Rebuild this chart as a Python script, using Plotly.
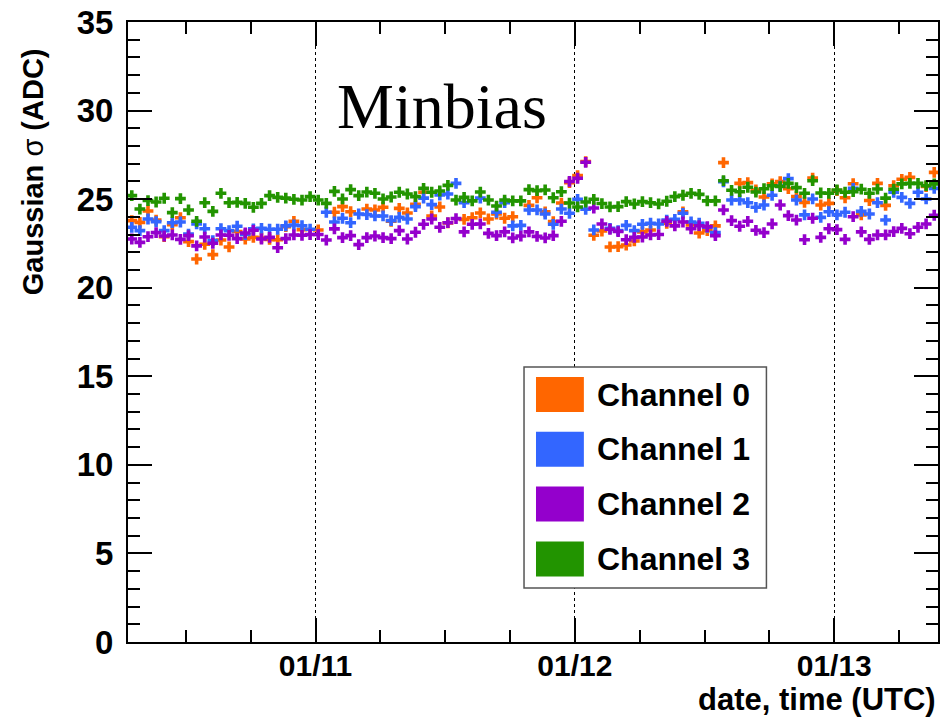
import plotly.graph_objects as go

# Sampling times (one reading every 45 minutes)
TIMES = [
    "2011-01-10 07:00", "2011-01-10 07:45", "2011-01-10 08:30", "2011-01-10 09:15",
    "2011-01-10 10:00", "2011-01-10 10:45", "2011-01-10 11:30", "2011-01-10 12:15",
    "2011-01-10 13:00", "2011-01-10 13:45", "2011-01-10 14:30", "2011-01-10 15:15",
    "2011-01-10 16:00", "2011-01-10 16:45", "2011-01-10 17:30", "2011-01-10 18:15",
    "2011-01-10 19:00", "2011-01-10 19:45", "2011-01-10 20:30", "2011-01-10 21:15",
    "2011-01-10 22:00", "2011-01-10 22:45", "2011-01-10 23:30",
    "2011-01-11 00:15", "2011-01-11 01:00", "2011-01-11 01:45", "2011-01-11 02:30",
    "2011-01-11 03:15", "2011-01-11 04:00", "2011-01-11 04:45", "2011-01-11 05:30",
    "2011-01-11 06:15", "2011-01-11 07:00", "2011-01-11 07:45", "2011-01-11 08:30",
    "2011-01-11 09:15", "2011-01-11 10:00", "2011-01-11 10:45", "2011-01-11 11:30",
    "2011-01-11 12:15", "2011-01-11 13:00", "2011-01-11 13:45", "2011-01-11 14:30",
    "2011-01-11 15:15", "2011-01-11 16:00", "2011-01-11 16:45", "2011-01-11 17:30",
    "2011-01-11 18:15", "2011-01-11 19:00", "2011-01-11 19:45", "2011-01-11 20:30",
    "2011-01-11 21:15", "2011-01-11 22:00", "2011-01-11 22:45", "2011-01-11 23:30",
    "2011-01-12 00:15", "2011-01-12 01:00", "2011-01-12 01:45", "2011-01-12 02:30",
    "2011-01-12 03:15", "2011-01-12 04:00", "2011-01-12 04:45", "2011-01-12 05:30",
    "2011-01-12 06:15", "2011-01-12 07:00", "2011-01-12 07:45", "2011-01-12 08:30",
    "2011-01-12 09:15", "2011-01-12 10:00", "2011-01-12 10:45", "2011-01-12 11:30",
    "2011-01-12 12:15", "2011-01-12 13:00", "2011-01-12 13:45", "2011-01-12 14:30",
    "2011-01-12 15:15", "2011-01-12 16:00", "2011-01-12 16:45", "2011-01-12 17:30",
    "2011-01-12 18:15", "2011-01-12 19:00", "2011-01-12 19:45", "2011-01-12 20:30",
    "2011-01-12 21:15", "2011-01-12 22:00", "2011-01-12 22:45", "2011-01-12 23:30",
    "2011-01-13 00:15", "2011-01-13 01:00", "2011-01-13 01:45", "2011-01-13 02:30",
    "2011-01-13 03:15", "2011-01-13 04:00", "2011-01-13 04:45", "2011-01-13 05:30",
    "2011-01-13 06:15", "2011-01-13 07:00", "2011-01-13 07:45", "2011-01-13 08:30",
    "2011-01-13 09:15",
]

# Gaussian sigma per channel (ADC counts); None where no reading is shown
CH0 = [
    23.79, 23.69, 24.33, 23.82, 22.88, 23.56, 23.95, 22.60, 21.62, 22.45,
    21.87, 22.69, 22.30, 23.17, 22.75, 22.84, 22.81, 22.73, 22.71, 23.45,
    23.75, 23.28, None, 23.26, None, 24.26, 24.58, 24.29, None, 24.44,
    24.39, 24.54, 23.75, 24.48, 24.22, 24.71, 25.39, 24.05, 24.56, 23.66,
    None, 23.86, 23.95, 24.22, 23.88, 24.16, 23.92, 24.01, None, 24.65,
    25.08, 24.28, 23.73, 24.78, 25.93, 26.33, 27.12, 22.96, 23.20, 22.30,
    22.32, 22.41, 22.64, 23.15, 23.26, None, 23.64, None, 24.28, 23.54,
    23.09, 23.22, 23.49, 27.06, None, 25.89, 25.93, 25.52, 25.12, 25.86,
    25.99, 25.59, 25.14, 24.82, 26.19, 24.67, 24.76, 25.48, 25.08, 25.87,
    24.11, 24.92, 25.89, 24.65, 25.76, 26.12, 26.23, None, 25.71, 26.51,
]
CH1 = [
    23.41, 23.22, 23.88, 23.73, 23.22, 23.67, 23.71, 23.03, 23.60, 23.33,
    22.66, 23.33, 23.22, 23.47, 23.00, 23.32, 23.35, 23.30, 23.30, 23.49,
    23.54, 23.50, 23.30, None, 24.26, 23.71, 23.92, 23.67, 24.16, 24.13,
    24.05, 24.05, 23.79, 23.97, 23.88, 24.58, 25.06, 24.69, 25.23, 25.29,
    25.89, 24.80, None, 25.06, None, 24.26, 24.80, 23.49, 23.52, 24.39,
    24.39, 24.16, 23.58, 24.44, 24.20, 24.99, 24.43, 23.26, None, 23.35,
    23.22, 23.52, 23.22, 23.58, 23.64, 23.60, 23.82, 23.86, 24.20, 23.71,
    23.64, 23.41, 23.11, 25.98, 24.95, 24.95, 24.80, 24.54, 24.67, 25.22,
    25.74, 26.16, 24.95, 24.11, 25.01, 23.97, 24.29, 24.11, 24.26, 25.61,
    24.31, 24.16, 24.80, 23.82, 25.39, 25.10, 24.76, 25.39, 25.01, 25.61,
]
CH2 = [
    22.75, 22.56, 22.88, 23.11, 22.92, 22.98, 22.73, 22.94, 22.36, 22.86,
    22.51, 22.98, 22.96, 22.77, 23.09, 23.24, 22.75, 22.84, 22.26, 22.77,
    22.98, 22.96, 23.00, 23.00, 22.69, 23.32, 22.83, 22.94, 22.43, 22.83,
    22.92, 22.83, 22.77, 23.22, 22.75, 23.13, 23.58, 23.88, 23.41, 23.67,
    23.90, 23.15, 23.58, 23.60, 23.07, 22.94, 23.15, 22.81, 22.92, 23.15,
    22.90, 22.81, 22.94, 23.75, 26.00, 26.18, 27.08, 24.50, 23.60, 23.30,
    23.17, 22.71, 22.84, 22.86, 22.98, 23.00, 23.75, 23.49, 23.71, 23.33,
    23.50, 23.45, 22.94, 24.39, 23.79, 23.47, 23.75, 23.24, 23.11, 23.60,
    24.67, 24.07, 23.82, 22.71, 23.92, 22.84, 23.33, 23.28, 22.73, 24.01,
    23.15, 22.73, 22.98, 22.98, 23.17, 23.35, 23.05, 23.41, 23.60, 24.09,
]
CH3 = [
    25.20, 24.44, 24.92, 24.84, 25.05, 24.24, 25.03, 24.39, 23.75, 24.80,
    24.31, 25.33, 24.80, 24.82, 24.76, 24.54, 24.76, 25.20, 25.10, 25.06,
    24.99, 24.95, 25.14, 24.95, 24.76, 25.44, 25.01, 25.54, 25.20, 25.40,
    25.33, 25.01, 25.12, 25.39, 25.29, 25.14, 25.61, 25.39, 25.46, 25.78,
    24.95, 25.10, 24.90, 25.40, 24.95, 24.61, 24.95, 24.90, 24.90, 25.54,
    25.48, 25.52, 25.08, 25.42, 24.78, 24.56, 24.84, 24.99, 24.75, 24.56,
    24.58, 24.86, 24.73, 24.86, 24.80, 24.73, 24.88, 25.14, 25.22, 25.33,
    25.27, 24.90, 24.90, 26.04, 25.50, 25.42, 25.67, 25.40, 25.59, 25.76,
    25.71, 25.89, 25.65, 25.33, 26.04, 25.35, 25.33, 25.52, 25.39, 25.42,
    25.56, 25.33, 25.57, 25.06, 25.56, 25.86, 25.89, 25.89, 25.76, 25.86,
]

CHANNELS = ["Channel 0", "Channel 1", "Channel 2", "Channel 3"]
COLORS = ["#ff6600", "#3366ff", "#9400cc", "#229400"]
SERIES = [CH0, CH1, CH2, CH3]

X_RANGE = ["2011-01-10 06:39", "2011-01-13 09:36"]
Y_RANGE = [0, 35]
DAY_TICKS = ["2011-01-11", "2011-01-12", "2011-01-13"]
DAY_LABELS = ["01/11", "01/12", "01/13"]

SANS = "Liberation Sans, Arial, sans-serif"
SERIF = "Liberation Serif, Times New Roman, serif"

fig = go.Figure()
for name, vals, col in zip(CHANNELS, SERIES, COLORS):
    fig.add_trace(go.Scatter(
        x=TIMES, y=vals, mode="markers", name=name, showlegend=False,
        marker=dict(symbol="cross", size=9, color=col, line=dict(width=0)),
    ))

W, H = 944, 717
ML, MR, MT, MB = 128, 4, 22, 75

fig.update_layout(
    width=W, height=H,
    margin=dict(l=ML, r=MR, t=MT, b=MB, pad=0),
    paper_bgcolor="white", plot_bgcolor="white",
    showlegend=False,
)

fig.update_xaxes(
    type="date", range=X_RANGE,
    showline=True, linecolor="black", linewidth=2, mirror="allticks",
    ticks="inside", ticklen=24, tickwidth=1.5, tickcolor="black",
    tickvals=DAY_TICKS, ticktext=DAY_LABELS, ticklabelstandoff=-4,
    tickfont=dict(family=SANS, size=30, color="black", weight="bold"),
    showgrid=True, gridcolor="black", gridwidth=1, griddash="dot",
    zeroline=False,
    minor=dict(ticks="inside", ticklen=12, tickwidth=1.5, tickcolor="black",
               dtick=6 * 3600 * 1000, tick0="2011-01-11", showgrid=False),
)
fig.update_yaxes(
    range=Y_RANGE,
    showline=True, linecolor="black", linewidth=2, mirror="allticks",
    ticks="inside", ticklen=24, tickwidth=1.5, tickcolor="black",
    dtick=5, tick0=0, ticklabelstandoff=6,
    tickfont=dict(family=SANS, size=33, color="black", weight="bold"),
    showgrid=False, zeroline=False,
    minor=dict(ticks="inside", ticklen=12, tickwidth=1.5, tickcolor="black",
               dtick=1, showgrid=False),
)

def px_x(p):
    return (p - ML) / (W - ML - MR)

def px_y(p):
    return (H - MB - p) / (H - MT - MB)

annotations = [
    dict(text="Minbias", x=px_x(336), y=px_y(106), xref="paper", yref="paper",
         xanchor="left", yanchor="middle", showarrow=False,
         font=dict(family=SERIF, size=64, color="black")),
    dict(text="<b>Gaussian</b> σ <b>(ADC)</b>", x=px_x(33), y=px_y(172),
         xref="paper", yref="paper", textangle=-90,
         xanchor="center", yanchor="middle", showarrow=False,
         font=dict(family=SANS, size=29, color="black")),
    dict(text="<b>date, time (UTC)</b>", x=1.0, y=px_y(699),
         xref="paper", yref="paper", xanchor="right", yanchor="middle",
         showarrow=False, font=dict(family=SANS, size=31, color="black")),
]

# Legend box drawn as shapes
shapes = [dict(type="rect", xref="paper", yref="paper",
               x0=px_x(525), x1=px_x(768), y0=px_y(588), y1=px_y(367),
               line=dict(color="#555555", width=1.5), fillcolor="white",
               layer="above")]
row_top, row_step, box_h = 377, 54.8, 35
for i, (name, col) in enumerate(zip(CHANNELS, COLORS)):
    top = row_top + i * row_step
    shapes.append(dict(type="rect", xref="paper", yref="paper",
                       x0=px_x(537), x1=px_x(585), y0=px_y(top + box_h), y1=px_y(top),
                       line=dict(width=0), fillcolor=col, layer="above"))
    annotations.append(dict(text="<b>%s</b>" % name, x=px_x(596), y=px_y(top + box_h / 2),
                            xref="paper", yref="paper", xanchor="left", yanchor="middle",
                            showarrow=False,
                            font=dict(family=SANS, size=32, color="black")))

fig.update_layout(shapes=shapes, annotations=annotations)
fig.write_html("out.html")
